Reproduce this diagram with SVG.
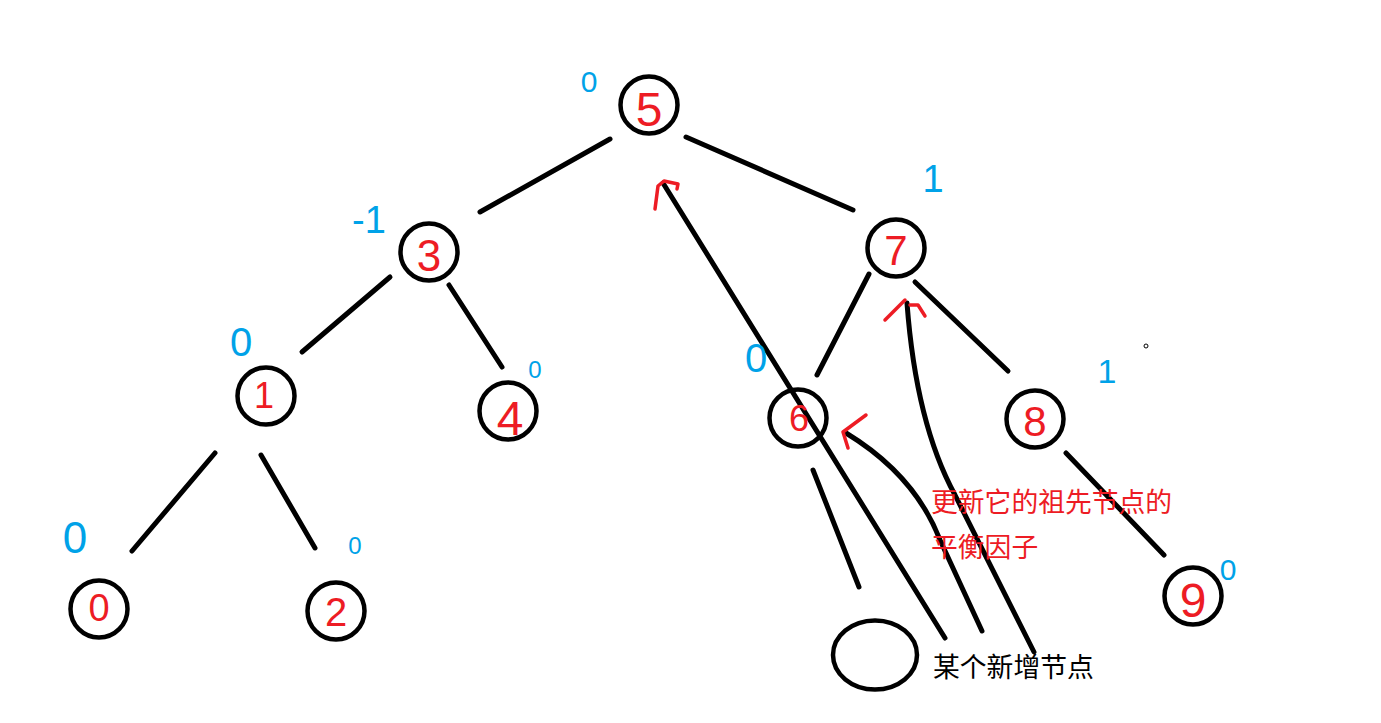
<svg xmlns="http://www.w3.org/2000/svg" width="1381" height="723" viewBox="0 0 1381 723">
<style>
.node{fill:none;stroke:#000;stroke-width:4.5}
.edge{fill:none;stroke:#000;stroke-width:5;stroke-linecap:round;stroke-linejoin:round}
.arr{fill:none;stroke:#ed1c24;stroke-width:3.5;stroke-linecap:round;stroke-linejoin:round}
.dig{fill:#ed1c24;font-family:"Liberation Sans",Arial,sans-serif;text-anchor:middle}
.bf{fill:#00a2e8;font-family:"Liberation Sans",Arial,sans-serif;text-anchor:middle}
.cjk{font-family:"Noto Sans CJK SC","Microsoft YaHei",sans-serif;font-size:26.8px}
</style>
<rect width="1381" height="723" fill="#fff"/>
<g id="connectors">
<line class="edge" x1="610" y1="139" x2="480" y2="212"/>
<line class="edge" x1="686" y1="137" x2="853" y2="210"/>
<line class="edge" x1="390" y1="277" x2="302" y2="352"/>
<line class="edge" x1="449" y1="285" x2="502" y2="367"/>
<line class="edge" x1="215" y1="453" x2="132" y2="551"/>
<line class="edge" x1="261" y1="455" x2="315" y2="548"/>
<line class="edge" x1="869" y1="274" x2="817" y2="375"/>
<line class="edge" x1="915" y1="282" x2="1008" y2="371"/>
<line class="edge" x1="813" y1="470" x2="859" y2="587"/>
<line class="edge" x1="1066" y1="453" x2="1164" y2="555"/>
<line class="edge" x1="945" y1="638" x2="663" y2="183"/>
<path class="edge" d="M846,433 Q915,475 940,540 L982,631"/>
<path class="edge" d="M907,303 C912,370 925,440 955,495 L1034,652"/>
<polyline class="arr" points="655,209 658,186 664,181 678,184 677,189"/>
<polyline class="arr" points="885,320 905,300"/>
<polyline class="arr" points="910,305 918,305 925,316"/>
<polyline class="arr" points="866,415 843,432 848,448"/>
</g>
<g id="n5"><circle class="node" cx="649" cy="105" r="28.5"/><text class="dig" x="649" y="126" font-size="48">5</text><text class="bf" x="589" y="92" font-size="30">0</text></g>
<g id="n3"><circle class="node" cx="429" cy="252" r="28.5"/><text class="dig" x="429" y="271" font-size="44">3</text><text class="bf" x="369" y="233" font-size="38">-1</text></g>
<g id="n1"><circle class="node" cx="266" cy="396" r="28.5"/><text class="dig" x="264" y="408" font-size="36">1</text><text class="bf" x="241" y="356" font-size="40">0</text></g>
<g id="n4"><circle class="node" cx="508" cy="411" r="28.5"/><text class="dig" x="510" y="435" font-size="48">4</text><text class="bf" x="535" y="378" font-size="24">0</text></g>
<g id="n0"><circle class="node" cx="99" cy="609" r="28.5"/><text class="dig" x="99" y="621" font-size="38">0</text><text class="bf" x="75" y="553" font-size="44">0</text></g>
<g id="n2"><circle class="node" cx="336" cy="611" r="28.5"/><text class="dig" x="336" y="626" font-size="40">2</text><text class="bf" x="355" y="554" font-size="24">0</text></g>
<g id="n6"><circle class="node" cx="798" cy="418" r="28.5"/><text class="dig" x="799" y="431" font-size="36">6</text><text class="bf" x="756" y="372" font-size="40">0</text></g>
<g id="n7"><circle class="node" cx="896" cy="248" r="28.5"/><text class="dig" x="896" y="265" font-size="42">7</text><text class="bf" x="933" y="192" font-size="38">1</text></g>
<g id="n8"><circle class="node" cx="1035" cy="419" r="28.5"/><text class="dig" x="1035" y="436" font-size="42">8</text><text class="bf" x="1107" y="383" font-size="34">1</text></g>
<g id="n9"><circle class="node" cx="1193" cy="596" r="28.5"/><text class="dig" x="1193" y="617" font-size="48">9</text><text class="bf" x="1228" y="580" font-size="30">0</text></g>
<g id="new"><ellipse class="node" cx="875" cy="655" rx="42" ry="34.5"/><text class="cjk" x="933" y="677" fill="#000">某个新增节点</text></g>
<g id="note"><text class="cjk" x="931" y="512" fill="#ed1c24">更新它的祖先节点的</text><text class="cjk" x="931" y="557" fill="#ed1c24">平衡因子</text></g>
<circle cx="1146" cy="346" r="2" fill="none" stroke="#000" stroke-width="1"/>
</svg>
